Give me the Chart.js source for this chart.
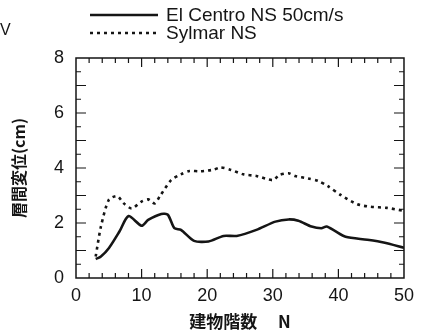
<!DOCTYPE html>
<html><head><meta charset="utf-8">
<style>html,body{margin:0;padding:0;background:#fff;overflow:hidden}#wrap{width:421px;height:332px}</style>
<script src="https://cdn.jsdelivr.net/npm/chart.js@4/dist/chart.umd.min.js"></script>
</head><body><div id="wrap"><canvas id="c" width="421" height="332"></canvas></div>
<script>
// ---- data ----
const elCentroFloors = [3,3.8,5,6.6,8,10,11,13,14,15,16,18,20.2,22.5,24.5,27.5,30.4,32.4,33.9,35.9,37.4,38.2,39.4,41.1,44.4,46.9,50];
const elCentroDrift  = [0.69,0.78,1.08,1.68,2.25,1.9,2.11,2.33,2.3,1.81,1.75,1.35,1.33,1.53,1.53,1.75,2.05,2.13,2.08,1.87,1.81,1.87,1.72,1.5,1.39,1.29,1.1];
const sylmarFloors = [3,3.8,5,6.3,7.3,8.5,10,11,12,12.8,14.5,16,17.3,19,21,22,23.5,25.5,27.5,30,31,32.4,33.4,35.4,36.9,38.4,40.4,42.9,44.9,47.4,50];
const sylmarDrift  = [0.78,1.87,2.84,2.98,2.71,2.53,2.78,2.86,2.71,2.98,3.56,3.77,3.89,3.88,3.94,4.02,3.94,3.77,3.71,3.56,3.75,3.81,3.71,3.62,3.53,3.34,3.01,2.68,2.59,2.55,2.44];
const seriesLabels = ['El Centro NS 50cm/s', 'Sylmar NS'];
const xTickLabels = [0,10,20,30,40,50];
const yTickLabels = [0,2,4,6,8];
const xTitle = '建物階数　 N';
const yTitle = '層間変位(cm)';
const strayText = 'V';

const pairs = (xs, ys) => xs.map((x, i) => ({x, y: ys[i]}));
const INK = '#151515';

const framePlugin = {
  id: 'frame',
  afterDatasetsDraw(chart) {
    const {ctx, chartArea: a, scales: {x, y}} = chart;
    ctx.save();
    ctx.strokeStyle = INK;
    ctx.lineWidth = 1.5;
    ctx.strokeRect(a.left, a.top, a.right - a.left, a.bottom - a.top);
    ctx.lineWidth = 1.2;
    ctx.beginPath();
    for (let v = 2; v < 50; v += 2) {
      const px = x.getPixelForValue(v);
      const len = (v % 10 === 0) ? 9 : 5;
      ctx.moveTo(px, a.bottom); ctx.lineTo(px, a.bottom - len);
      ctx.moveTo(px, a.top); ctx.lineTo(px, a.top + len);
    }
    for (let v = 0.5; v < 8; v += 0.5) {
      const py = y.getPixelForValue(v);
      const len = (Math.abs(v - Math.round(v)) < 1e-6) ? 10 : 5;
      ctx.moveTo(a.left, py); ctx.lineTo(a.left + len, py);
      ctx.moveTo(a.right, py); ctx.lineTo(a.right - len, py);
    }
    ctx.stroke();
    ctx.restore();
  },
  afterDraw(chart) {
    const {ctx} = chart;
    ctx.save();
    ctx.fillStyle = INK;
    ctx.strokeStyle = INK;
    ctx.font = '19px "Liberation Sans", Arial, sans-serif';
    ctx.textBaseline = 'middle';
    const rows = [15, 33];
    chart.data.datasets.forEach((ds, i) => {
      const yy = rows[i];
      ctx.lineWidth = ds.borderWidth;
      ctx.setLineDash(ds.borderDash || []);
      ctx.beginPath(); ctx.moveTo(90, yy); ctx.lineTo(158, yy); ctx.stroke();
      ctx.setLineDash([]);
      ctx.fillText(ds.label, 166, yy + 1);
    });
    ctx.font = '16px "Liberation Sans", Arial, sans-serif';
    ctx.fillText(strayText, 0, 31);
    ctx.restore();
  }
};

new Chart(document.getElementById('c'), {
  type: 'line',
  data: {
    datasets: [
      {label: seriesLabels[0], data: pairs(elCentroFloors, elCentroDrift), borderColor: INK, borderWidth: 2.6, pointRadius: 0, tension: 0.25, fill: false},
      {label: seriesLabels[1], data: pairs(sylmarFloors, sylmarDrift), borderColor: INK, borderWidth: 2.6, borderDash: [3, 4], pointRadius: 0, tension: 0.25, fill: false}
    ]
  },
  options: {
    responsive: false, animation: false, devicePixelRatio: 1,
    layout: {padding: {top: 58, right: 10, left: 0, bottom: 0}},
    plugins: {legend: {display: false}, tooltip: {enabled: false}},
    scales: {
      x: {
        type: 'linear', min: 0, max: 50,
        afterBuildTicks: s => { s.ticks = xTickLabels.map(v => ({value: v})); },
        afterFit: s => { s.height = 54; },
        grid: {display: false, drawTicks: false}, border: {display: false},
        ticks: {color: INK, font: {family: '"Liberation Sans", Arial, sans-serif', size: 18}, padding: 7, maxRotation: 0, autoSkip: false},
        title: {display: true, text: xTitle, color: INK, font: {family: '"Noto Sans CJK JP", sans-serif', size: 17, weight: 'bold', lineHeight: 1.2}, padding: {top: 0, bottom: 0}}
      },
      y: {
        type: 'linear', min: 0, max: 8,
        afterBuildTicks: s => { s.ticks = yTickLabels.map(v => ({value: v})); },
        afterFit: s => { s.width = 76; },
        grid: {display: false, drawTicks: false}, border: {display: false},
        ticks: {color: INK, font: {family: '"Liberation Sans", Arial, sans-serif', size: 18}, padding: 12, autoSkip: false},
        title: {display: true, text: yTitle, color: INK, font: {family: '"Noto Sans CJK JP", sans-serif', size: 16, weight: 'bold', lineHeight: 1.2}, padding: {top: 9, bottom: 0}}
      }
    }
  },
  plugins: [framePlugin]
});
</script></body></html>
